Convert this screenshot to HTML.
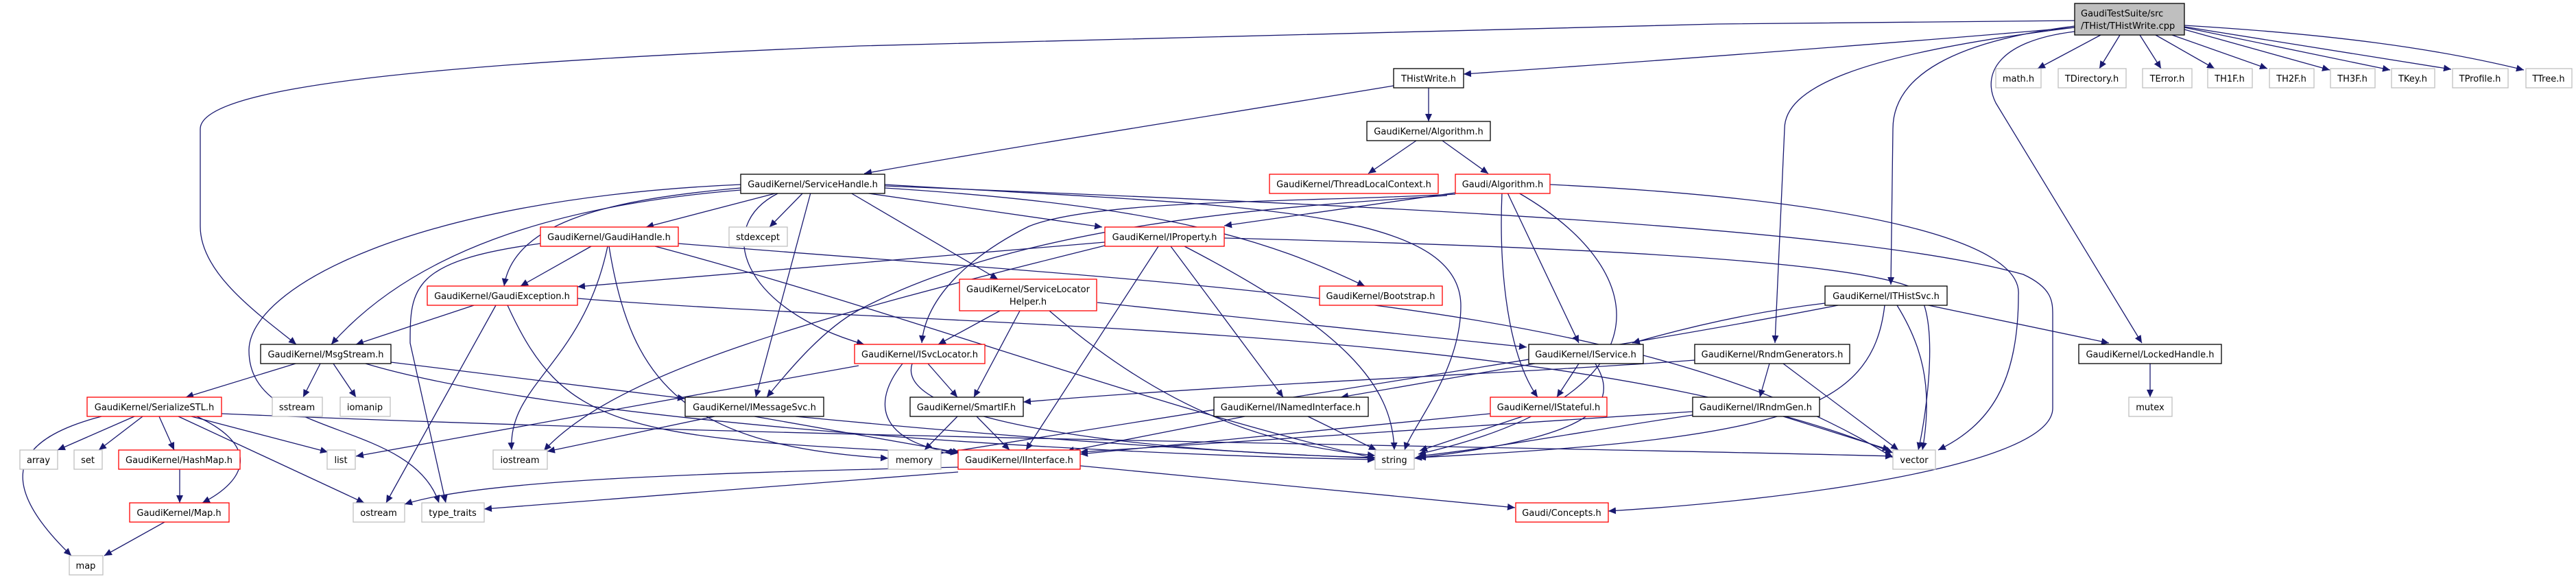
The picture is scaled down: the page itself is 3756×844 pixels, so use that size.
<!DOCTYPE html>
<html><head><meta charset="utf-8"><style>
html,body{margin:0;padding:0;background:#fff;}
svg{display:block;}
text{font-family:"DejaVu Sans","Liberation Sans",sans-serif;font-size:13px;fill:#000;}
.k{fill:#fff;stroke:#000;stroke-width:1.3}
.r{fill:#fff;stroke:#ff0000;stroke-width:1.3}
.g{fill:#fff;stroke:#bfbfbf;stroke-width:1.3}
.e path{fill:none;stroke:#191970;stroke-width:1.3;marker-end:url(#a)}
</style></head><body>
<svg width="3756" height="844" viewBox="0 0 3756 844" xmlns="http://www.w3.org/2000/svg">
<defs><marker id="a" markerWidth="12" markerHeight="10" refX="11" refY="5" orient="auto" markerUnits="userSpaceOnUse"><path d="M0,0 L11,5 L0,10z" fill="#191970"/></marker></defs>
<g class="e">
<path d="M3025,40 C2800,60 2400,90 2134,108"/>
<path d="M3025,30 L2504,35 L1252,67 C700,90 292,120 292,188 L292,330 C292,400 380,460 432,502"/>
<path d="M3063,51 L2971,100"/>
<path d="M3091,51 L3061,100"/>
<path d="M3120,51 L3151,100"/>
<path d="M3143,51 L3229,100"/>
<path d="M3167,51 L3306,100"/>
<path d="M3185,43 L3397,102"/>
<path d="M3185,40 L3485,102"/>
<path d="M3185,39 L3574,101"/>
<path d="M3185,37 C3400,50 3550,70 3680,102"/>
<path d="M3025,38 C2850,60 2760,110 2760,188 L2757,415"/>
<path d="M3025,40 C2700,80 2602,130 2602,188 L2588,500"/>
<path d="M3025,46 C2910,60 2890,110 2910,150 L3123,500"/>
<path d="M2032,125 C1700,180 1500,210 1260,253"/>
<path d="M2083,128 L2083,177"/>
<path d="M2065,205 L1995,253"/>
<path d="M2103,205 L2170,253"/>
<path d="M3135,530 L3135,579"/>
<path d="M2661,442 C2550,455 2450,480 2380,500"/>
<path d="M2807,444 L3075,500"/>
<path d="M2766,445 C2800,500 2820,560 2803,656"/>
<path d="M2748,445 C2730,600 2600,640 2068,667"/>
<path d="M2680,445 C2400,500 2000,560 1377,660"/>
<path d="M2580,530 L2566,579"/>
<path d="M2600,530 L2768,656"/>
<path d="M2600,607 L2756,656"/>
<path d="M2471,525 C2200,545 1800,560 1492,586"/>
<path d="M2468,600 C2200,620 1900,640 1575,659"/>
<path d="M2468,605 C2300,630 2200,650 2068,665"/>
<path d="M2122,281 L1785,329"/>
<path d="M2122,283 C1900,295 1600,290 1500,330 C1420,370 1350,430 1344,500"/>
<path d="M2110,285 C1900,300 1500,320 1252,452 C1200,480 1150,540 1118,579"/>
<path d="M2198,281 L2302,500"/>
<path d="M2190,281 C2185,400 2200,520 2242,579"/>
<path d="M2214,281 C2420,400 2430,580 2068,662"/>
<path d="M2260,269 C2700,290 2950,350 2943,430 C2943,560 2900,620 2826,656"/>
<path d="M1134,281 L942,331"/>
<path d="M1171,281 L1122,331"/>
<path d="M1182,281 L1102,579"/>
<path d="M1080,274 C900,290 750,320 735,417"/>
<path d="M1080,277 C800,300 600,370 483,502"/>
<path d="M1080,269 C600,290 363,420 363,511 C363,640 600,610 640,733"/>
<path d="M1134,282 C1040,330 1080,450 1260,502"/>
<path d="M1240,281 L1455,407"/>
<path d="M1260,281 L1607,331"/>
<path d="M1290,274 C1700,300 1850,350 1990,417"/>
<path d="M1290,269 C1800,300 2130,300 2130,446 C2130,540 2060,620 2048,656"/>
<path d="M1290,271 C2000,300 2700,330 2950,400 C2993,420 2993,440 2993,460 L2993,595 C2993,680 2600,730 2345,745"/>
<path d="M862,359 L759,417"/>
<path d="M886,359 C850,530 740,560 746,656"/>
<path d="M788,355 C600,380 598,420 598,500 L650,733"/>
<path d="M888,359 C920,560 1000,650 1295,668"/>
<path d="M955,359 C1300,450 1700,600 2005,668"/>
<path d="M989,355 C1800,420 2400,440 2760,667"/>
<path d="M691,445 L519,502"/>
<path d="M723,445 L563,733"/>
<path d="M740,445 C820,620 900,640 1377,660"/>
<path d="M842,435 C1400,480 2300,470 2760,660"/>
<path d="M431,530 L271,579"/>
<path d="M467,530 L442,579"/>
<path d="M486,530 L519,579"/>
<path d="M570,528 L999,581"/>
<path d="M533,530 C800,610 1500,660 2005,670"/>
<path d="M196,607 L84,656"/>
<path d="M208,607 L144,656"/>
<path d="M232,607 L254,656"/>
<path d="M287,607 C380,650 360,700 295,733"/>
<path d="M279,607 L478,659"/>
<path d="M260,607 L531,733"/>
<path d="M148,607 C20,640 -10,700 104,810"/>
<path d="M323,603 C1200,640 2200,650 2760,665"/>
<path d="M262,684 L262,733"/>
<path d="M240,761 L152,810"/>
<path d="M1042,607 L798,658"/>
<path d="M1160,607 C1500,640 1800,660 2005,668"/>
<path d="M1100,607 L1400,660"/>
<path d="M1252,533 L519,665"/>
<path d="M1353,530 L1396,579"/>
<path d="M1316,530 C1260,600 1300,650 1397,660"/>
<path d="M1330,530 C1300,620 1700,660 2005,667"/>
<path d="M1458,453 L1368,502"/>
<path d="M1487,453 L1420,579"/>
<path d="M1530,453 C1700,600 1850,650 2005,664"/>
<path d="M1600,441 L2226,506"/>
<path d="M1611,353 L842,418"/>
<path d="M1611,358 C1200,460 900,540 793,657"/>
<path d="M1689,359 L1496,656"/>
<path d="M1707,359 L1871,579"/>
<path d="M1727,359 C1960,480 2030,560 2033,656"/>
<path d="M1785,347 C2300,360 2700,380 2790,420 C2830,450 2810,600 2797,656"/>
<path d="M1396,607 L1348,656"/>
<path d="M1424,607 L1472,656"/>
<path d="M1815,607 L1555,658"/>
<path d="M1907,607 L2007,656"/>
<path d="M2238,530 L1955,579"/>
<path d="M2302,530 L2270,579"/>
<path d="M2326,530 C2370,600 2300,640 2062,668"/>
<path d="M2173,603 L1575,662"/>
<path d="M2220,607 L2070,657"/>
<path d="M1397,681 C1000,690 700,700 590,735"/>
<path d="M1397,688 L706,742"/>
<path d="M1575,679 L2209,740"/>
</g>
<g>
<rect class="k" x="3025" y="5" width="160" height="46" style="fill:#bfbfbf"/>
<text x="3034" y="24">GaudiTestSuite/src</text><text x="3034" y="42">/THist/THistWrite.cpp</text>
<rect class="k" x="2032" y="100" width="102" height="28"/><text x="2083" y="119" text-anchor="middle">THistWrite.h</text>
<rect class="g" x="2910" y="100" width="66" height="28"/><text x="2943" y="119" text-anchor="middle">math.h</text>
<rect class="g" x="3001" y="100" width="99" height="28"/><text x="3050" y="119" text-anchor="middle">TDirectory.h</text>
<rect class="g" x="3124" y="100" width="72" height="28"/><text x="3160" y="119" text-anchor="middle">TError.h</text>
<rect class="g" x="3219" y="100" width="65" height="28"/><text x="3251" y="119" text-anchor="middle">TH1F.h</text>
<rect class="g" x="3309" y="100" width="65" height="28"/><text x="3341" y="119" text-anchor="middle">TH2F.h</text>
<rect class="g" x="3398" y="100" width="65" height="28"/><text x="3430" y="119" text-anchor="middle">TH3F.h</text>
<rect class="g" x="3487" y="100" width="63" height="28"/><text x="3518" y="119" text-anchor="middle">TKey.h</text>
<rect class="g" x="3576" y="100" width="81" height="28"/><text x="3616" y="119" text-anchor="middle">TProfile.h</text>
<rect class="g" x="3683" y="100" width="67" height="28"/><text x="3716" y="119" text-anchor="middle">TTree.h</text>
<rect class="k" x="1993" y="177" width="180" height="28"/><text x="2083" y="196" text-anchor="middle">GaudiKernel/Algorithm.h</text>
<rect class="k" x="1080" y="254" width="210" height="28"/><text x="1185" y="273" text-anchor="middle">GaudiKernel/ServiceHandle.h</text>
<rect class="r" x="1851" y="254" width="246" height="28"/><text x="1974" y="273" text-anchor="middle">GaudiKernel/ThreadLocalContext.h</text>
<rect class="r" x="2122" y="254" width="138" height="28"/><text x="2191" y="273" text-anchor="middle">Gaudi/Algorithm.h</text>
<rect class="r" x="788" y="331" width="201" height="28"/><text x="888" y="350" text-anchor="middle">GaudiKernel/GaudiHandle.h</text>
<rect class="g" x="1063" y="331" width="85" height="28"/><text x="1105" y="350" text-anchor="middle">stdexcept</text>
<rect class="r" x="1611" y="331" width="174" height="28"/><text x="1698" y="350" text-anchor="middle">GaudiKernel/IProperty.h</text>
<rect class="r" x="1399" y="407" width="200" height="46"/><text x="1499" y="426" text-anchor="middle">GaudiKernel/ServiceLocator</text><text x="1499" y="444" text-anchor="middle">Helper.h</text>
<rect class="r" x="623" y="417" width="219" height="28"/><text x="732" y="436" text-anchor="middle">GaudiKernel/GaudiException.h</text>
<rect class="r" x="1924" y="417" width="179" height="28"/><text x="2013" y="436" text-anchor="middle">GaudiKernel/Bootstrap.h</text>
<rect class="k" x="2661" y="417" width="178" height="28"/><text x="2750" y="436" text-anchor="middle">GaudiKernel/ITHistSvc.h</text>
<rect class="k" x="380" y="502" width="190" height="28"/><text x="475" y="521" text-anchor="middle">GaudiKernel/MsgStream.h</text>
<rect class="r" x="1246" y="502" width="190" height="28"/><text x="1341" y="521" text-anchor="middle">GaudiKernel/ISvcLocator.h</text>
<rect class="k" x="2229" y="502" width="167" height="28"/><text x="2312" y="521" text-anchor="middle">GaudiKernel/IService.h</text>
<rect class="k" x="2471" y="502" width="226" height="28"/><text x="2584" y="521" text-anchor="middle">GaudiKernel/RndmGenerators.h</text>
<rect class="k" x="3031" y="502" width="208" height="28"/><text x="3135" y="521" text-anchor="middle">GaudiKernel/LockedHandle.h</text>
<rect class="r" x="127" y="579" width="196" height="28"/><text x="225" y="598" text-anchor="middle">GaudiKernel/SerializeSTL.h</text>
<rect class="g" x="397" y="579" width="73" height="28"/><text x="433" y="598" text-anchor="middle">sstream</text>
<rect class="g" x="496" y="579" width="73" height="28"/><text x="532" y="598" text-anchor="middle">iomanip</text>
<rect class="k" x="999" y="579" width="202" height="28"/><text x="1100" y="598" text-anchor="middle">GaudiKernel/IMessageSvc.h</text>
<rect class="k" x="1327" y="579" width="165" height="28"/><text x="1409" y="598" text-anchor="middle">GaudiKernel/SmartIF.h</text>
<rect class="k" x="1770" y="579" width="225" height="28"/><text x="1882" y="598" text-anchor="middle">GaudiKernel/INamedInterface.h</text>
<rect class="r" x="2173" y="579" width="170" height="28"/><text x="2258" y="598" text-anchor="middle">GaudiKernel/IStateful.h</text>
<rect class="k" x="2468" y="579" width="185" height="28"/><text x="2560" y="598" text-anchor="middle">GaudiKernel/IRndmGen.h</text>
<rect class="g" x="3104" y="579" width="63" height="28"/><text x="3135" y="598" text-anchor="middle">mutex</text>
<rect class="g" x="29" y="656" width="55" height="28"/><text x="56" y="675" text-anchor="middle">array</text>
<rect class="g" x="108" y="656" width="41" height="28"/><text x="128" y="675" text-anchor="middle">set</text>
<rect class="r" x="173" y="656" width="177" height="28"/><text x="261" y="675" text-anchor="middle">GaudiKernel/HashMap.h</text>
<rect class="g" x="477" y="656" width="41" height="28"/><text x="497" y="675" text-anchor="middle">list</text>
<rect class="g" x="719" y="656" width="79" height="28"/><text x="758" y="675" text-anchor="middle">iostream</text>
<rect class="g" x="1295" y="656" width="77" height="28"/><text x="1333" y="675" text-anchor="middle">memory</text>
<rect class="r" x="1397" y="656" width="178" height="28"/><text x="1486" y="675" text-anchor="middle">GaudiKernel/IInterface.h</text>
<rect class="g" x="2005" y="656" width="57" height="28"/><text x="2033" y="675" text-anchor="middle">string</text>
<rect class="g" x="2760" y="656" width="62" height="28"/><text x="2791" y="675" text-anchor="middle">vector</text>
<rect class="r" x="189" y="733" width="145" height="28"/><text x="261" y="752" text-anchor="middle">GaudiKernel/Map.h</text>
<rect class="g" x="515" y="733" width="75" height="28"/><text x="552" y="752" text-anchor="middle">ostream</text>
<rect class="g" x="615" y="733" width="91" height="28"/><text x="660" y="752" text-anchor="middle">type_traits</text>
<rect class="r" x="2210" y="733" width="135" height="28"/><text x="2277" y="752" text-anchor="middle">Gaudi/Concepts.h</text>
<rect class="g" x="101" y="810" width="49" height="28"/><text x="125" y="829" text-anchor="middle">map</text>
</g>
</svg>
</body></html>
